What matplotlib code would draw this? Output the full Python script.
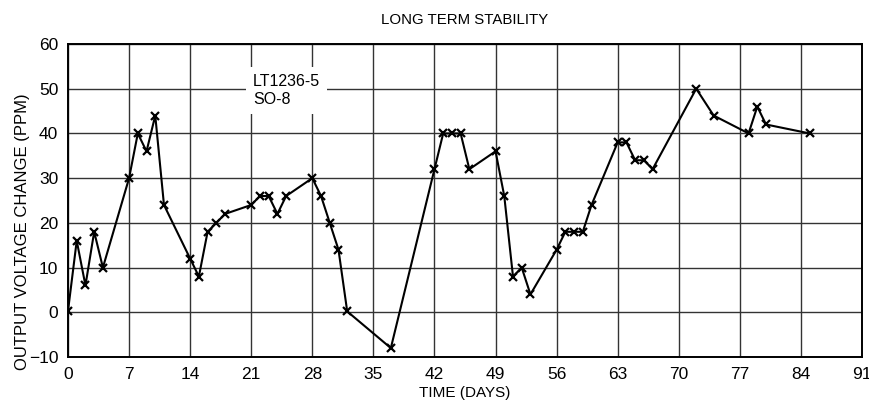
import matplotlib.pyplot as plt
import numpy as np

plt.rcParams['font.family'] = ['Liberation Sans', 'DejaVu Sans']

days = [0, 1, 2, 3, 4, 7, 8, 9, 10, 11, 14, 15, 16, 17, 18, 21, 22, 23, 24, 25,
        28, 29, 30, 31, 32, 37, 42, 43, 44, 45, 46, 49, 50, 51, 52, 53, 56, 57,
        58, 59, 60, 63, 64, 65, 66, 67, 72, 74, 78, 79, 80, 85]
ppm = [0.3, 16, 6, 18, 10, 30, 40, 36, 44, 24, 12, 8, 18, 20, 22, 24, 26, 26, 22, 26,
       30, 26, 20, 14, 0.2, -8, 32, 40, 40, 40, 32, 36, 26, 8, 10, 4, 14, 18,
       18, 18, 24, 38, 38, 34, 34, 32, 50, 44, 40, 46, 42, 40]

x_ticks = list(range(0, 92, 7))
y_ticks = list(range(-10, 61, 10))

W, H = 869, 407
fig = plt.figure(figsize=(W / 100, H / 100), dpi=100)
ax = fig.add_axes([68 / W, 1 - 357 / H, 794 / W, 313 / H])

ax.plot(days, ppm, color='black', lw=1.5, marker='x', ms=6, mew=1.6)

ax.set_xlim(0, 91)
ax.set_ylim(-10, 60)
ax.set_xticks(x_ticks)
ax.set_yticks(y_ticks)
ax.grid(True, color='#333333', lw=1.0)
ax.tick_params(length=0, labelsize=12.5, pad=7)
for s in ax.spines.values():
    s.set_linewidth(1.4)

ax.text(21.2, 49.6, "LT1236-5\nSO-8", fontsize=11.5, ha='left', va='center',
        linespacing=1.3,
        bbox=dict(facecolor='white', edgecolor='none', pad=5))

ax.set_xlabel("TIME (DAYS)", fontsize=11, labelpad=3)
fig.text(23 / W, 1 - 232 / H, "OUTPUT VOLTAGE CHANGE (PPM)", fontsize=12,
         rotation=90, ha='center', va='center')
fig.text(465 / W, 1 - 20 / H, "LONG TERM STABILITY", fontsize=10.8,
         ha='center', va='center')

fig.savefig("out.png", dpi=100)
